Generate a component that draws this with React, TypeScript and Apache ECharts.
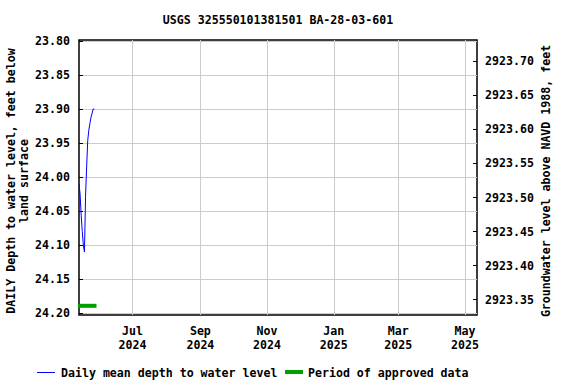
import React, { useEffect, useRef } from "react";
import * as echarts from "echarts";

const TITLE = "USGS 325550101381501 BA-28-03-601";
const LEFT_AXIS_TITLE = "DAILY Depth to water level, feet below\nland surface";
const RIGHT_AXIS_TITLE = "Groundwater level above NAVD 1988, feet";

// daily mean depth to water (feet below land surface)
const depthDates = [
  "2024-05-13", "2024-05-14", "2024-05-15", "2024-05-16", "2024-05-17",
  "2024-05-18", "2024-05-19", "2024-05-20", "2024-05-21", "2024-05-22",
  "2024-05-23", "2024-05-24", "2024-05-25", "2024-05-26", "2024-05-27",
];
const depthValues = [
  24.010, 24.025, 24.056, 24.080, 24.100,
  24.110, 24.028, 23.985, 23.946, 23.931,
  23.921, 23.912, 23.906, 23.900, 23.900,
];

// period of approved data
const approvedDates = ["2024-05-12", "2024-05-29"];
const approvedLevel = 24.189;

const depthTicks = [23.8, 23.85, 23.9, 23.95, 24.0, 24.05, 24.1, 24.15, 24.2];
const elevTicks = [2923.35, 2923.4, 2923.45, 2923.5, 2923.55, 2923.6, 2923.65, 2923.7];
const dateTicks = ["2024-07-01", "2024-09-01", "2024-11-01", "2025-01-01", "2025-03-01", "2025-05-01"];
const dateTickLabels = ["Jul\n2024", "Sep\n2024", "Nov\n2024", "Jan\n2025", "Mar\n2025", "May\n2025"];

const landSurfaceElevation = 2947.53;
const depthMin = 23.7987;
const depthMax = 24.2025;
const dateMin = "2024-05-13";
const dateMax = "2025-05-12";

const FONT = "'DejaVu Sans Mono', monospace";
const FS = 11.6;

const t = (s: string) => Date.parse(s);

export default function App() {
  const ref = useRef<HTMLDivElement>(null);
  useEffect(() => {
    if (!ref.current) return;
    const chart = echarts.init(ref.current, undefined, { renderer: "svg" });
    const dateTickTimes = dateTicks.map(t);
    const textStyle = { fontFamily: FONT, fontSize: FS, fontWeight: "bold", color: "#000" };
    chart.setOption({
      animation: false,
      grid: {
        left: 79, right: 99, top: 40, bottom: 69,
        show: true, borderColor: "#000", borderWidth: 1.5, backgroundColor: "transparent",
      },
      xAxis: {
        type: "value",
        min: t(dateMin),
        max: t(dateMax),
        axisLine: { show: false },
        axisTick: { show: false, customValues: dateTickTimes },
        axisLabel: {
          customValues: dateTickTimes,
          margin: 9,
          lineHeight: 14,
          ...textStyle,
          formatter: (v: number) => {
            const i = dateTickTimes.indexOf(v);
            return i >= 0 ? dateTickLabels[i] : "";
          },
        },
        splitLine: { show: true, lineStyle: { color: "#cccccc", width: 1 } },
      },
      yAxis: [
        {
          type: "value",
          inverse: true,
          min: depthMin,
          max: depthMax,
          position: "left",
          axisLine: { show: false },
          axisTick: { show: true, inside: true, length: 4, customValues: depthTicks, lineStyle: { color: "#000" } },
          axisLabel: { customValues: depthTicks, margin: 9, ...textStyle, formatter: (v: number) => v.toFixed(2) },
          splitLine: { show: true, lineStyle: { color: "#cccccc", width: 1 } },
        },
        {
          type: "value",
          min: landSurfaceElevation - depthMax,
          max: landSurfaceElevation - depthMin,
          position: "right",
          axisLine: { show: false },
          axisTick: { show: true, inside: true, length: 4, customValues: elevTicks, lineStyle: { color: "#000" } },
          axisLabel: { customValues: elevTicks, margin: 8, ...textStyle, formatter: (v: number) => v.toFixed(2) },
          splitLine: { show: false },
        },
      ],
      series: [
        {
          type: "line",
          name: "Period of approved data",
          yAxisIndex: 0,
          clip: false,
          showSymbol: false,
          data: approvedDates.map((d) => [t(d), approvedLevel]),
          lineStyle: { color: "#00a000", width: 4 },
        },
        {
          type: "line",
          name: "Daily mean depth to water level",
          yAxisIndex: 0,
          showSymbol: false,
          data: depthDates.map((d, i) => [t(d), depthValues[i]]),
          lineStyle: { color: "#0000ff", width: 1 },
        },
      ],
      graphic: [
        {
          type: "text", x: 278, y: 19.5,
          style: { text: TITLE, fill: "#000", textAlign: "center", textVerticalAlign: "middle", font: `bold ${FS}px ${FONT}` },
        },
        {
          type: "text", x: 17.5, y: 181, rotation: Math.PI / 2,
          style: { text: LEFT_AXIS_TITLE, fill: "#000", textAlign: "center", textVerticalAlign: "middle", lineHeight: 12.5, font: `bold ${FS}px ${FONT}` },
        },
        {
          type: "text", x: 546, y: 181, rotation: Math.PI / 2,
          style: { text: RIGHT_AXIS_TITLE, fill: "#000", textAlign: "center", textVerticalAlign: "middle", font: `bold ${FS}px ${FONT}` },
        },
        { type: "line", shape: { x1: 37, y1: 372.5, x2: 55, y2: 372.5 }, style: { stroke: "#0000ff", lineWidth: 1 } },
        {
          type: "text", x: 61, y: 373,
          style: { text: "Daily mean depth to water level", fill: "#000", textAlign: "left", textVerticalAlign: "middle", font: `bold ${FS}px ${FONT}` },
        },
        { type: "line", shape: { x1: 285, y1: 372, x2: 303, y2: 372 }, style: { stroke: "#00a000", lineWidth: 4 } },
        {
          type: "text", x: 308, y: 373,
          style: { text: "Period of approved data", fill: "#000", textAlign: "left", textVerticalAlign: "middle", font: `bold ${FS}px ${FONT}` },
        },
      ],
    });
    return () => chart.dispose();
  }, []);
  return <div ref={ref} style={{ width: 576, height: 384, position: "absolute", left: 0, top: 0 }} />;
}
